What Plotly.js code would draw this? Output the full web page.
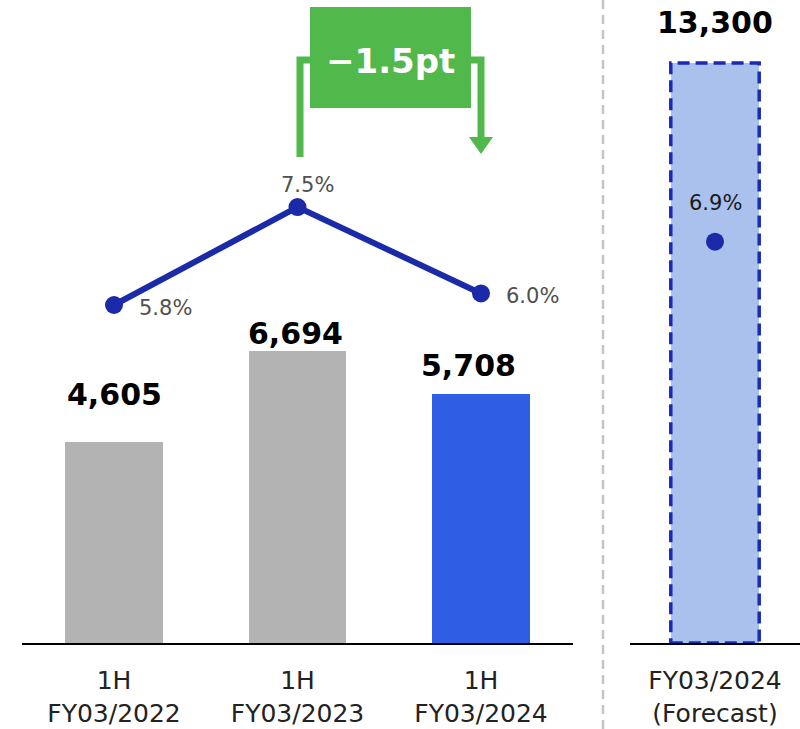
<!DOCTYPE html>
<html>
<head>
<meta charset="utf-8">
<script src="https://cdn.plot.ly/plotly-3.0.1.min.js"></script>
<style>html,body{margin:0;padding:0;background:#fff;}#chart{width:800px;height:729px;}</style>
</head>
<body>
<div id="chart"></div>
<script>
// ---- data ----
const categories = ['1H<br>FY03/2022', '1H<br>FY03/2023', '1H<br>FY03/2024'];
const salesValues = [4605, 6694, 5708];
const marginValues = [5.8, 7.5, 6.0];
const forecastCategory = ['FY03/2024<br>(Forecast)'];
const forecastSales = [13300];
const forecastMargin = [6.9];
const changeLabel = '\u22121.5pt';

// ---- style ----
const W = 800, H = 729, MB = 86, PH = H - MB;
const px = v => v / W;
const py = v => 1 - v / PH;
const FONT = 'DejaVu Sans';
const green = '#51b84b';
const lineBlue = '#1b2aa8';
const fmt = v => v.toLocaleString('en-US');
const fmtPct = v => v.toFixed(1) + '%';
const valueShiftY = [48, 18, 29];
const valueShiftX = [0, -2, -13];

const traces = [
  {type: 'bar', x: categories, y: salesValues, xaxis: 'x', yaxis: 'y', width: 0.53,
   marker: {color: ['#b3b3b3', '#b3b3b3', '#2f5de4']}, hoverinfo: 'none'},
  {type: 'bar', x: forecastCategory, y: forecastSales, xaxis: 'x2', yaxis: 'y', width: 0.52,
   marker: {color: '#aac1ee'}, hoverinfo: 'none'},
  {type: 'scatter', mode: 'lines+markers', x: categories, y: marginValues, xaxis: 'x', yaxis: 'y2',
   line: {color: lineBlue, width: 6}, marker: {color: lineBlue, size: 18}, hoverinfo: 'none'},
  {type: 'scatter', mode: 'markers', x: forecastCategory, y: forecastMargin, xaxis: 'x2', yaxis: 'y3',
   marker: {color: lineBlue, size: 18, line: {color: lineBlue, width: 0}}, hoverinfo: 'none'}
];

const annotations = [];
salesValues.forEach((v, i) => annotations.push({
  xref: 'x', yref: 'y', x: i, y: v, text: '<b>' + fmt(v) + '</b>', showarrow: false,
  yanchor: 'middle', xanchor: 'center', yshift: valueShiftY[i], xshift: valueShiftX[i],
  font: {family: FONT, size: 30, color: '#000'}
}));
annotations.push({
  xref: 'x2', yref: 'y', x: 0, y: forecastSales[0], text: '<b>' + fmt(forecastSales[0]) + '</b>',
  showarrow: false, yanchor: 'middle', xanchor: 'center', yshift: 41, xshift: 0,
  font: {family: FONT, size: 30, color: '#000'}
});
const pctPos = [
  {xa: 'left', xs: 23, ys: -3},
  {xa: 'center', xs: 10, ys: 22},
  {xa: 'left', xs: 23, ys: -3}
];
marginValues.forEach((v, i) => annotations.push({
  xref: 'x', yref: 'y2', x: i, y: v, text: fmtPct(v), showarrow: false,
  xanchor: pctPos[i].xa, yanchor: 'middle', xshift: pctPos[i].xs, yshift: pctPos[i].ys,
  font: {family: FONT, size: 21, color: '#505050'}
}));
annotations.push({
  xref: 'x2', yref: 'y3', x: 0, y: forecastMargin[0], text: fmtPct(forecastMargin[0]), showarrow: false,
  xanchor: 'center', yanchor: 'middle', yshift: 39,
  font: {family: FONT, size: 21, color: '#1a1a1a'}
});
annotations.push({
  xref: 'paper', yref: 'paper', x: px(390.5), y: py(61), text: '<b>' + changeLabel + '</b>',
  showarrow: false, xanchor: 'center', yanchor: 'middle',
  font: {family: FONT, size: 34, color: '#fff'}
});

const shapes = [
  // separator
  {type: 'line', xref: 'paper', yref: 'paper', x0: px(603), x1: px(603), y0: py(0), y1: py(H),
   line: {color: '#c4c4c4', width: 2.5, dash: '9px,6px'}},
  // forecast dashed border
  {type: 'rect', xref: 'x2', yref: 'y', x0: -0.26, x1: 0.26, y0: 0, y1: forecastSales[0],
   line: {color: '#1a2ab4', width: 3.5, dash: '12px,6px'}},
  // green box
  {type: 'rect', xref: 'paper', yref: 'paper', x0: px(310), x1: px(471), y0: py(7), y1: py(108),
   fillcolor: green, line: {width: 0}},
  // left bracket
  {type: 'path', xref: 'paper', yref: 'paper',
   path: `M ${px(300)} ${py(157)} L ${px(300)} ${py(60)} L ${px(311)} ${py(60)}`,
   line: {color: green, width: 7}},
  // right bracket
  {type: 'path', xref: 'paper', yref: 'paper',
   path: `M ${px(470)} ${py(60)} L ${px(481)} ${py(60)} L ${px(481)} ${py(140)}`,
   line: {color: green, width: 7}},
  // arrow head
  {type: 'path', xref: 'paper', yref: 'paper',
   path: `M ${px(469)} ${py(137)} L ${px(493)} ${py(137)} L ${px(481)} ${py(154)} Z`,
   fillcolor: green, line: {width: 0}}
];

const baseX = {
  type: 'category', showline: true, linecolor: '#000', linewidth: 2, ticks: '',
  showgrid: false, zeroline: false, fixedrange: true, ticklabelstandoff: 14,
  tickfont: {family: FONT, size: 25, color: '#222'}
};
const layout = {
  width: W, height: H, margin: {l: 0, r: 0, t: 0, b: MB},
  paper_bgcolor: '#fff', plot_bgcolor: 'rgba(0,0,0,0)', showlegend: false,
  xaxis: Object.assign({}, baseX, {domain: [px(22.25), px(572.75)], anchor: 'y', range: [-0.5, 2.5]}),
  xaxis2: Object.assign({}, baseX, {domain: [px(630), 1], anchor: 'y', range: [-0.5, 0.5]}),
  yaxis: {domain: [0, 1], range: [0, 14745], visible: false, fixedrange: true},
  yaxis2: {overlaying: 'y', anchor: 'x', range: [-0.068, 11.095], visible: false, fixedrange: true},
  yaxis3: {overlaying: 'y', anchor: 'x2', range: [-0.068, 11.095], visible: false, fixedrange: true},
  annotations: annotations, shapes: shapes, bargap: 0
};
Plotly.newPlot('chart', traces, layout, {displayModeBar: false, staticPlot: true});
</script>
</body>
</html>
